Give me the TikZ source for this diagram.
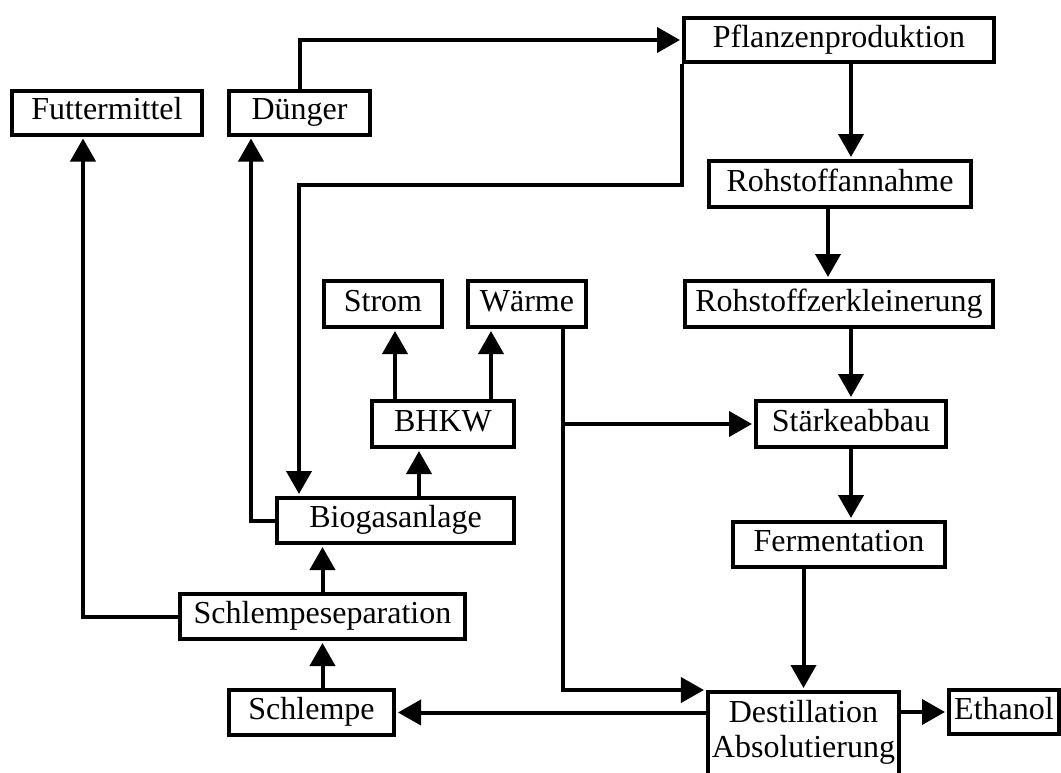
\documentclass[tikz,border=0pt]{standalone}
\usepackage{fontspec}
\setmainfont{Liberation Serif}
\usetikzlibrary{arrows.meta}

\begin{document}
\begin{tikzpicture}[x=0.5pt,y=-0.5pt,
  frame/.style={draw,line width=2pt,inner xsep=2pt,font=\fontsize{16}{17.5}\selectfont},
  block/.style={frame,minimum height=22pt,text height=11pt,text depth=3.6pt},
  link/.style={line width=2pt,shorten >=1pt,-{Triangle[width=12.5pt,length=11.5pt]}}]
\useasboundingbox (0,0) rectangle (1061,772);

% Bloecke
\node[block,minimum width=155pt] (pflanz) at (839,40) {Pflanzenproduktion};
\node[block,minimum width=95pt] (futter) at (107,112.5) {Futtermittel};
\node[block,minimum width=70.5pt] (duenger) at (299.5,112.5) {Dünger};
\node[block,minimum width=131pt,minimum height=23pt] (annahme) at (840,184) {Rohstoffannahme};
\node[block,minimum width=59pt,minimum height=23pt] (strom) at (383,304) {Strom};
\node[block,minimum width=59pt,minimum height=23pt] (waerme) at (527,304) {Wärme};
\node[block,minimum width=154pt,minimum height=23pt] (zerkl) at (839,304) {Rohstoffzerkleinerung};
\node[block,minimum width=71pt,minimum height=23pt] (bhkw) at (443,424) {BHKW};
\node[block,minimum width=95pt,minimum height=23pt] (staerke) at (851,424) {Stärkeabbau};
\node[block,minimum width=118.5pt,minimum height=22.5pt] (biogas) at (395.5,520.5) {Biogasanlage};
\node[block,minimum width=106pt,minimum height=22.5pt] (ferment) at (839,544.5) {Fermentation};
\node[block,minimum width=142.5pt,minimum height=22.5pt] (separ) at (322.5,616.5) {Schlempeseparation};
\node[block,minimum width=82.5pt,minimum height=22.5pt] (schlempe) at (311.5,712.5) {Schlempe};
\node[frame,anchor=north,minimum width=94.5pt,inner ysep=4pt,align=center] (destill) at (803.5,690)
  {Destillation\\Absolutierung\rule[-30pt]{0pt}{0pt}};
\node[block,minimum width=55pt] (ethanol) at (1004,712) {Ethanol};

% Knickpunkte
\coordinate (c1) at (851,0);
\coordinate (c2) at (828,0);
\coordinate (c3) at (299,185);
\coordinate (c4) at (563,0);
\coordinate (c5) at (83,0);
\coordinate (c6) at (251,0);
\coordinate (c7) at (419,0);
\coordinate (c8) at (395,0);
\coordinate (c9) at (491,0);

% Stoffstroeme
\draw[link] (duenger.north) |- (pflanz.west);
\draw[link] (pflanz.south -| c1) -- (annahme.north -| c1);
\draw[link] (pflanz.south west) |- (c3) -- (c3 |- biogas.north);
\draw[link] (annahme.south -| c2) -- (zerkl.north -| c2);
\draw[link] (zerkl.south -| staerke.north) -- (staerke.north);
\draw[link] (staerke.south) -- (staerke.south |- ferment.north);
\draw[link] (ferment.south -| destill.north) -- (destill.north);
\draw[link] (waerme.south -| c4) -- (c4 |- destill.north west) -- (destill.north west);
\draw[link] (c4 |- staerke.west) -- (staerke.west);
\draw[link] (destill.east |- ethanol.west) -- (ethanol.west);
\draw[link] (destill.west |- schlempe.east) -- (schlempe.east);
\draw[link] (schlempe.north -| separ.south) -- (separ.south);
\draw[link] (separ.north) -- (separ.north |- biogas.south);
\draw[link] (separ.west) -| (c5 |- futter.south);
\draw[link] (biogas.west) -| (c6 |- duenger.south);
\draw[link] (biogas.north -| c7) -- (bhkw.south -| c7);
\draw[link] (bhkw.north -| c8) -- (strom.south -| c8);
\draw[link] (bhkw.north -| c9) -- (waerme.south -| c9);

\end{tikzpicture}
\end{document}
